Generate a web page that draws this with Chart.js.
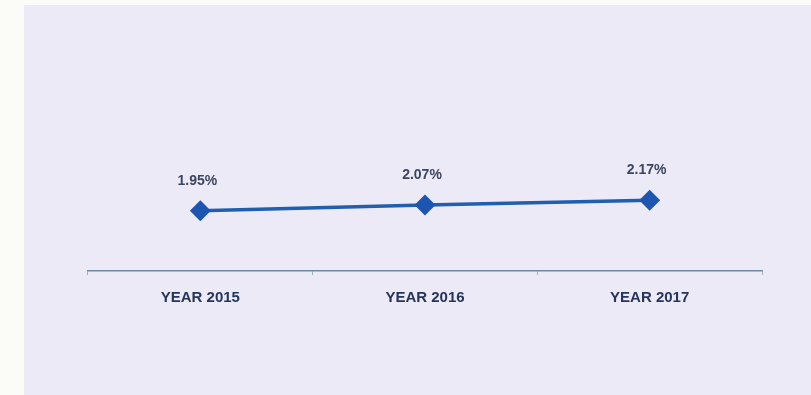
<!DOCTYPE html>
<html>
<head>
<meta charset="utf-8">
<script src="https://cdn.jsdelivr.net/npm/chart.js@4/dist/chart.umd.min.js"></script>
<style>
  html, body { margin: 0; padding: 0; background: #fbfbf8; }
  #wrap { position: absolute; left: 24px; top: 5px; width: 787px; height: 390px; background: #edeaf7; }
  canvas { position: absolute; left: 0; top: 0; }
</style>
</head>
<body>
<div id="wrap"></div>
<canvas id="rateChart" width="811" height="395"></canvas>
<script>
// 年度ごとの値
const years = ['YEAR 2015', 'YEAR 2016', 'YEAR 2017'];
const rates = [1.95, 2.07, 2.17];
const rateLabels = ['1.95%', '2.07%', '2.17%'];

// 点の上に値を描く
const pointLabelPlugin = {
  id: 'point-label-plugin',
  afterDatasetsDraw: function (chart) {
    const ctx = chart.ctx;
    const meta = chart.getDatasetMeta(0);
    ctx.save();
    ctx.font = 'bold 14px "Liberation Sans"';
    ctx.fillStyle = '#3b4560';
    ctx.textAlign = 'center';
    ctx.textBaseline = 'middle';
    meta.data.forEach(function (pt, i) {
      ctx.fillText(rateLabels[i], pt.x - 3, pt.y - 30);
    });
    ctx.restore();
  }
};

const rateChart = new Chart(document.getElementById('rateChart'), {
  type: 'line',
  data: {
    labels: years,
    datasets: [
      {
        data: rates,
        borderColor: '#1f5fae',
        borderWidth: 3.5,
        pointStyle: 'rectRot',
        pointRadius: 8,
        pointHoverRadius: 8,
        pointBackgroundColor: '#1d56b0',
        pointBorderColor: '#1d56b0',
        tension: 0,
      },
    ],
  },
  options: {
    responsive: false,
    animation: false,
    layout: { padding: { left: 88, right: 49, top: 64, bottom: 74 } },
    plugins: {
      legend: { display: false },
      tooltip: { enabled: false },
    },
    scales: {
      x: {
        offset: true,
        border: { display: true, color: '#6d8aa0', width: 1.5 },
        grid: { display: true, drawOnChartArea: false, tickLength: 4, color: '#9fb0bf', offset: true },
        ticks: {
          padding: 14,
          color: '#25365a',
          font: { family: '"Liberation Sans"', size: 15, weight: 'bold' },
        },
      },
      y: {
        display: false,
        min: 0.7,
        max: 5.0,
      },
    },
  },
  plugins: [pointLabelPlugin],
});
</script>
</body>
</html>
